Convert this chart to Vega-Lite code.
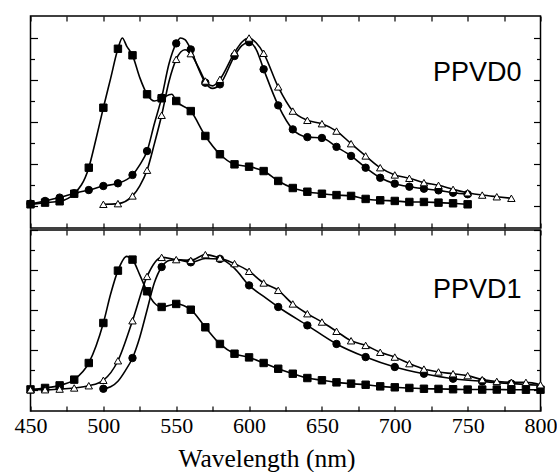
{
  "$schema": "https://vega.github.io/schema/vega-lite/v6.json",
  "background": "white",
  "padding": {"left": 12.5, "top": 14, "right": 0, "bottom": 0},
  "spacing": -6,
  "config": {
    "view": {"stroke": "black", "strokeWidth": 1.5},
    "axis": {"domain": false, "grid": false, "tickColor": "black", "tickWidth": 1.2, "labelColor": "black", "titleColor": "black", "minExtent": 0, "labelFlush": false, "offset": 0}
  },
  "datasets": {
    "curves": [
      {"panel":"PPVD0","series":"s1","nm":450,"I":0.010},{"panel":"PPVD0","series":"s1","nm":460,"I":0.020},{"panel":"PPVD0","series":"s1","nm":470,"I":0.028},{"panel":"PPVD0","series":"s1","nm":480,"I":0.073},{"panel":"PPVD0","series":"s1","nm":490,"I":0.228},{"panel":"PPVD0","series":"s1","nm":495,"I":0.40},{"panel":"PPVD0","series":"s1","nm":500,"I":0.585},{"panel":"PPVD0","series":"s1","nm":505,"I":0.76},{"panel":"PPVD0","series":"s1","nm":510,"I":0.936},{"panel":"PPVD0","series":"s1","nm":513,"I":1.0},{"panel":"PPVD0","series":"s1","nm":516,"I":0.952},{"panel":"PPVD0","series":"s1","nm":520,"I":0.897},{"panel":"PPVD0","series":"s1","nm":525,"I":0.764},{"panel":"PPVD0","series":"s1","nm":530,"I":0.665},{"panel":"PPVD0","series":"s1","nm":535,"I":0.625},{"panel":"PPVD0","series":"s1","nm":540,"I":0.641},{"panel":"PPVD0","series":"s1","nm":547,"I":0.665},{"panel":"PPVD0","series":"s1","nm":550,"I":0.625},{"panel":"PPVD0","series":"s1","nm":560,"I":0.565},{"panel":"PPVD0","series":"s1","nm":570,"I":0.417},{"panel":"PPVD0","series":"s1","nm":580,"I":0.308},{"panel":"PPVD0","series":"s1","nm":590,"I":0.248},{"panel":"PPVD0","series":"s1","nm":600,"I":0.234},{"panel":"PPVD0","series":"s1","nm":610,"I":0.208},{"panel":"PPVD0","series":"s1","nm":620,"I":0.149},{"panel":"PPVD0","series":"s1","nm":630,"I":0.107},{"panel":"PPVD0","series":"s1","nm":640,"I":0.085},{"panel":"PPVD0","series":"s1","nm":650,"I":0.073},{"panel":"PPVD0","series":"s1","nm":660,"I":0.065},{"panel":"PPVD0","series":"s1","nm":670,"I":0.060},{"panel":"PPVD0","series":"s1","nm":680,"I":0.042},{"panel":"PPVD0","series":"s1","nm":690,"I":0.034},{"panel":"PPVD0","series":"s1","nm":700,"I":0.030},{"panel":"PPVD0","series":"s1","nm":710,"I":0.024},{"panel":"PPVD0","series":"s1","nm":720,"I":0.024},{"panel":"PPVD0","series":"s1","nm":730,"I":0.020},{"panel":"PPVD0","series":"s1","nm":740,"I":0.016},{"panel":"PPVD0","series":"s1","nm":750,"I":0.010},
      {"panel":"PPVD0","series":"s2","nm":450,"I":0.014},{"panel":"PPVD0","series":"s2","nm":460,"I":0.030},{"panel":"PPVD0","series":"s2","nm":470,"I":0.050},{"panel":"PPVD0","series":"s2","nm":480,"I":0.076},{"panel":"PPVD0","series":"s2","nm":490,"I":0.095},{"panel":"PPVD0","series":"s2","nm":500,"I":0.119},{"panel":"PPVD0","series":"s2","nm":510,"I":0.135},{"panel":"PPVD0","series":"s2","nm":520,"I":0.185},{"panel":"PPVD0","series":"s2","nm":525,"I":0.245},{"panel":"PPVD0","series":"s2","nm":530,"I":0.327},{"panel":"PPVD0","series":"s2","nm":535,"I":0.49},{"panel":"PPVD0","series":"s2","nm":540,"I":0.645},{"panel":"PPVD0","series":"s2","nm":545,"I":0.845},{"panel":"PPVD0","series":"s2","nm":550,"I":0.968},{"panel":"PPVD0","series":"s2","nm":553,"I":1.0},{"panel":"PPVD0","series":"s2","nm":556,"I":0.99},{"panel":"PPVD0","series":"s2","nm":560,"I":0.932},{"panel":"PPVD0","series":"s2","nm":565,"I":0.823},{"panel":"PPVD0","series":"s2","nm":570,"I":0.734},{"panel":"PPVD0","series":"s2","nm":575,"I":0.70},{"panel":"PPVD0","series":"s2","nm":580,"I":0.724},{"panel":"PPVD0","series":"s2","nm":590,"I":0.893},{"panel":"PPVD0","series":"s2","nm":595,"I":0.955},{"panel":"PPVD0","series":"s2","nm":600,"I":0.975},{"panel":"PPVD0","series":"s2","nm":605,"I":0.93},{"panel":"PPVD0","series":"s2","nm":610,"I":0.814},{"panel":"PPVD0","series":"s2","nm":620,"I":0.599},{"panel":"PPVD0","series":"s2","nm":630,"I":0.456},{"panel":"PPVD0","series":"s2","nm":640,"I":0.410},{"panel":"PPVD0","series":"s2","nm":650,"I":0.405},{"panel":"PPVD0","series":"s2","nm":660,"I":0.352},{"panel":"PPVD0","series":"s2","nm":670,"I":0.298},{"panel":"PPVD0","series":"s2","nm":680,"I":0.228},{"panel":"PPVD0","series":"s2","nm":690,"I":0.168},{"panel":"PPVD0","series":"s2","nm":700,"I":0.133},{"panel":"PPVD0","series":"s2","nm":710,"I":0.115},{"panel":"PPVD0","series":"s2","nm":720,"I":0.103},{"panel":"PPVD0","series":"s2","nm":730,"I":0.093},{"panel":"PPVD0","series":"s2","nm":740,"I":0.079},{"panel":"PPVD0","series":"s2","nm":750,"I":0.070},
      {"panel":"PPVD0","series":"s3","nm":500,"I":0.010},{"panel":"PPVD0","series":"s3","nm":510,"I":0.014},{"panel":"PPVD0","series":"s3","nm":520,"I":0.060},{"panel":"PPVD0","series":"s3","nm":525,"I":0.12},{"panel":"PPVD0","series":"s3","nm":530,"I":0.213},{"panel":"PPVD0","series":"s3","nm":535,"I":0.37},{"panel":"PPVD0","series":"s3","nm":540,"I":0.540},{"panel":"PPVD0","series":"s3","nm":545,"I":0.74},{"panel":"PPVD0","series":"s3","nm":550,"I":0.873},{"panel":"PPVD0","series":"s3","nm":556,"I":0.93},{"panel":"PPVD0","series":"s3","nm":560,"I":0.907},{"panel":"PPVD0","series":"s3","nm":565,"I":0.83},{"panel":"PPVD0","series":"s3","nm":570,"I":0.744},{"panel":"PPVD0","series":"s3","nm":575,"I":0.715},{"panel":"PPVD0","series":"s3","nm":580,"I":0.754},{"panel":"PPVD0","series":"s3","nm":590,"I":0.913},{"panel":"PPVD0","series":"s3","nm":595,"I":0.975},{"panel":"PPVD0","series":"s3","nm":600,"I":1.0},{"panel":"PPVD0","series":"s3","nm":605,"I":0.97},{"panel":"PPVD0","series":"s3","nm":610,"I":0.909},{"panel":"PPVD0","series":"s3","nm":620,"I":0.709},{"panel":"PPVD0","series":"s3","nm":630,"I":0.565},{"panel":"PPVD0","series":"s3","nm":640,"I":0.510},{"panel":"PPVD0","series":"s3","nm":650,"I":0.490},{"panel":"PPVD0","series":"s3","nm":660,"I":0.446},{"panel":"PPVD0","series":"s3","nm":670,"I":0.371},{"panel":"PPVD0","series":"s3","nm":680,"I":0.298},{"panel":"PPVD0","series":"s3","nm":690,"I":0.228},{"panel":"PPVD0","series":"s3","nm":700,"I":0.185},{"panel":"PPVD0","series":"s3","nm":710,"I":0.165},{"panel":"PPVD0","series":"s3","nm":720,"I":0.139},{"panel":"PPVD0","series":"s3","nm":730,"I":0.123},{"panel":"PPVD0","series":"s3","nm":740,"I":0.099},{"panel":"PPVD0","series":"s3","nm":750,"I":0.079},{"panel":"PPVD0","series":"s3","nm":760,"I":0.065},{"panel":"PPVD0","series":"s3","nm":770,"I":0.055},{"panel":"PPVD0","series":"s3","nm":780,"I":0.046},
      {"panel":"PPVD1","series":"s1","nm":450,"I":0.004},{"panel":"PPVD1","series":"s1","nm":460,"I":0.013},{"panel":"PPVD1","series":"s1","nm":470,"I":0.029},{"panel":"PPVD1","series":"s1","nm":480,"I":0.065},{"panel":"PPVD1","series":"s1","nm":490,"I":0.169},{"panel":"PPVD1","series":"s1","nm":500,"I":0.419},{"panel":"PPVD1","series":"s1","nm":505,"I":0.60},{"panel":"PPVD1","series":"s1","nm":510,"I":0.746},{"panel":"PPVD1","series":"s1","nm":516,"I":0.835},{"panel":"PPVD1","series":"s1","nm":520,"I":0.815},{"panel":"PPVD1","series":"s1","nm":525,"I":0.72},{"panel":"PPVD1","series":"s1","nm":530,"I":0.617},{"panel":"PPVD1","series":"s1","nm":535,"I":0.544},{"panel":"PPVD1","series":"s1","nm":540,"I":0.519},{"panel":"PPVD1","series":"s1","nm":550,"I":0.538},{"panel":"PPVD1","series":"s1","nm":560,"I":0.502},{"panel":"PPVD1","series":"s1","nm":570,"I":0.392},{"panel":"PPVD1","series":"s1","nm":580,"I":0.288},{"panel":"PPVD1","series":"s1","nm":590,"I":0.227},{"panel":"PPVD1","series":"s1","nm":600,"I":0.204},{"panel":"PPVD1","series":"s1","nm":610,"I":0.169},{"panel":"PPVD1","series":"s1","nm":620,"I":0.133},{"panel":"PPVD1","series":"s1","nm":630,"I":0.102},{"panel":"PPVD1","series":"s1","nm":640,"I":0.075},{"panel":"PPVD1","series":"s1","nm":650,"I":0.061},{"panel":"PPVD1","series":"s1","nm":660,"I":0.048},{"panel":"PPVD1","series":"s1","nm":670,"I":0.040},{"panel":"PPVD1","series":"s1","nm":680,"I":0.033},{"panel":"PPVD1","series":"s1","nm":690,"I":0.023},{"panel":"PPVD1","series":"s1","nm":700,"I":0.017},{"panel":"PPVD1","series":"s1","nm":710,"I":0.013},{"panel":"PPVD1","series":"s1","nm":720,"I":0.008},{"panel":"PPVD1","series":"s1","nm":730,"I":0.007},{"panel":"PPVD1","series":"s1","nm":740,"I":0.005},{"panel":"PPVD1","series":"s1","nm":750,"I":0.003},{"panel":"PPVD1","series":"s1","nm":760,"I":0.003},{"panel":"PPVD1","series":"s1","nm":770,"I":0.003},{"panel":"PPVD1","series":"s1","nm":780,"I":0.002},{"panel":"PPVD1","series":"s1","nm":790,"I":0.002},{"panel":"PPVD1","series":"s1","nm":800,"I":0.002},
      {"panel":"PPVD1","series":"s2","nm":500,"I":0.008},{"panel":"PPVD1","series":"s2","nm":505,"I":0.02},{"panel":"PPVD1","series":"s2","nm":510,"I":0.055},{"panel":"PPVD1","series":"s2","nm":515,"I":0.12},{"panel":"PPVD1","series":"s2","nm":520,"I":0.200},{"panel":"PPVD1","series":"s2","nm":525,"I":0.33},{"panel":"PPVD1","series":"s2","nm":530,"I":0.50},{"panel":"PPVD1","series":"s2","nm":535,"I":0.67},{"panel":"PPVD1","series":"s2","nm":540,"I":0.769},{"panel":"PPVD1","series":"s2","nm":545,"I":0.81},{"panel":"PPVD1","series":"s2","nm":550,"I":0.815},{"panel":"PPVD1","series":"s2","nm":560,"I":0.798},{"panel":"PPVD1","series":"s2","nm":570,"I":0.822},{"panel":"PPVD1","series":"s2","nm":580,"I":0.819},{"panel":"PPVD1","series":"s2","nm":590,"I":0.76},{"panel":"PPVD1","series":"s2","nm":600,"I":0.654},{"panel":"PPVD1","series":"s2","nm":610,"I":0.585},{"panel":"PPVD1","series":"s2","nm":620,"I":0.519},{"panel":"PPVD1","series":"s2","nm":640,"I":0.404},{"panel":"PPVD1","series":"s2","nm":660,"I":0.288},{"panel":"PPVD1","series":"s2","nm":680,"I":0.206},{"panel":"PPVD1","series":"s2","nm":700,"I":0.144},{"panel":"PPVD1","series":"s2","nm":720,"I":0.102},{"panel":"PPVD1","series":"s2","nm":740,"I":0.071},{"panel":"PPVD1","series":"s2","nm":760,"I":0.054},{"panel":"PPVD1","series":"s2","nm":780,"I":0.040},{"panel":"PPVD1","series":"s2","nm":800,"I":0.030},
      {"panel":"PPVD1","series":"s3","nm":450,"I":0.002},{"panel":"PPVD1","series":"s3","nm":460,"I":0.002},{"panel":"PPVD1","series":"s3","nm":470,"I":0.006},{"panel":"PPVD1","series":"s3","nm":480,"I":0.013},{"panel":"PPVD1","series":"s3","nm":490,"I":0.027},{"panel":"PPVD1","series":"s3","nm":500,"I":0.061},{"panel":"PPVD1","series":"s3","nm":510,"I":0.183},{"panel":"PPVD1","series":"s3","nm":520,"I":0.433},{"panel":"PPVD1","series":"s3","nm":530,"I":0.710},{"panel":"PPVD1","series":"s3","nm":540,"I":0.829},{"panel":"PPVD1","series":"s3","nm":550,"I":0.815},{"panel":"PPVD1","series":"s3","nm":560,"I":0.810},{"panel":"PPVD1","series":"s3","nm":570,"I":0.846},{"panel":"PPVD1","series":"s3","nm":580,"I":0.825},{"panel":"PPVD1","series":"s3","nm":590,"I":0.790},{"panel":"PPVD1","series":"s3","nm":600,"I":0.742},{"panel":"PPVD1","series":"s3","nm":610,"I":0.669},{"panel":"PPVD1","series":"s3","nm":620,"I":0.623},{"panel":"PPVD1","series":"s3","nm":630,"I":0.538},{"panel":"PPVD1","series":"s3","nm":640,"I":0.477},{"panel":"PPVD1","series":"s3","nm":650,"I":0.425},{"panel":"PPVD1","series":"s3","nm":660,"I":0.367},{"panel":"PPVD1","series":"s3","nm":670,"I":0.308},{"panel":"PPVD1","series":"s3","nm":680,"I":0.279},{"panel":"PPVD1","series":"s3","nm":690,"I":0.236},{"panel":"PPVD1","series":"s3","nm":700,"I":0.206},{"panel":"PPVD1","series":"s3","nm":710,"I":0.165},{"panel":"PPVD1","series":"s3","nm":720,"I":0.131},{"panel":"PPVD1","series":"s3","nm":730,"I":0.113},{"panel":"PPVD1","series":"s3","nm":740,"I":0.102},{"panel":"PPVD1","series":"s3","nm":750,"I":0.090},{"panel":"PPVD1","series":"s3","nm":760,"I":0.065},{"panel":"PPVD1","series":"s3","nm":770,"I":0.054},{"panel":"PPVD1","series":"s3","nm":780,"I":0.048},{"panel":"PPVD1","series":"s3","nm":790,"I":0.048},{"panel":"PPVD1","series":"s3","nm":800,"I":0.033}
    ],
    "symbols": [
      {"panel":"PPVD0","series":"s1","nm":450,"I":0.010},{"panel":"PPVD0","series":"s1","nm":460,"I":0.020},{"panel":"PPVD0","series":"s1","nm":470,"I":0.028},{"panel":"PPVD0","series":"s1","nm":480,"I":0.073},{"panel":"PPVD0","series":"s1","nm":490,"I":0.228},{"panel":"PPVD0","series":"s1","nm":500,"I":0.585},{"panel":"PPVD0","series":"s1","nm":510,"I":0.936},{"panel":"PPVD0","series":"s1","nm":520,"I":0.897},{"panel":"PPVD0","series":"s1","nm":530,"I":0.665},{"panel":"PPVD0","series":"s1","nm":540,"I":0.641},{"panel":"PPVD0","series":"s1","nm":550,"I":0.625},{"panel":"PPVD0","series":"s1","nm":560,"I":0.565},{"panel":"PPVD0","series":"s1","nm":570,"I":0.417},{"panel":"PPVD0","series":"s1","nm":580,"I":0.308},{"panel":"PPVD0","series":"s1","nm":590,"I":0.248},{"panel":"PPVD0","series":"s1","nm":600,"I":0.234},{"panel":"PPVD0","series":"s1","nm":610,"I":0.208},{"panel":"PPVD0","series":"s1","nm":620,"I":0.149},{"panel":"PPVD0","series":"s1","nm":630,"I":0.107},{"panel":"PPVD0","series":"s1","nm":640,"I":0.085},{"panel":"PPVD0","series":"s1","nm":650,"I":0.073},{"panel":"PPVD0","series":"s1","nm":660,"I":0.065},{"panel":"PPVD0","series":"s1","nm":670,"I":0.060},{"panel":"PPVD0","series":"s1","nm":680,"I":0.042},{"panel":"PPVD0","series":"s1","nm":690,"I":0.034},{"panel":"PPVD0","series":"s1","nm":700,"I":0.030},{"panel":"PPVD0","series":"s1","nm":710,"I":0.024},{"panel":"PPVD0","series":"s1","nm":720,"I":0.024},{"panel":"PPVD0","series":"s1","nm":730,"I":0.020},{"panel":"PPVD0","series":"s1","nm":740,"I":0.016},{"panel":"PPVD0","series":"s1","nm":750,"I":0.010},
      {"panel":"PPVD0","series":"s2","nm":450,"I":0.014},{"panel":"PPVD0","series":"s2","nm":460,"I":0.030},{"panel":"PPVD0","series":"s2","nm":470,"I":0.050},{"panel":"PPVD0","series":"s2","nm":480,"I":0.076},{"panel":"PPVD0","series":"s2","nm":490,"I":0.095},{"panel":"PPVD0","series":"s2","nm":500,"I":0.119},{"panel":"PPVD0","series":"s2","nm":510,"I":0.135},{"panel":"PPVD0","series":"s2","nm":520,"I":0.185},{"panel":"PPVD0","series":"s2","nm":530,"I":0.327},{"panel":"PPVD0","series":"s2","nm":540,"I":0.645},{"panel":"PPVD0","series":"s2","nm":550,"I":0.968},{"panel":"PPVD0","series":"s2","nm":560,"I":0.932},{"panel":"PPVD0","series":"s2","nm":570,"I":0.734},{"panel":"PPVD0","series":"s2","nm":580,"I":0.724},{"panel":"PPVD0","series":"s2","nm":590,"I":0.893},{"panel":"PPVD0","series":"s2","nm":600,"I":0.975},{"panel":"PPVD0","series":"s2","nm":610,"I":0.814},{"panel":"PPVD0","series":"s2","nm":620,"I":0.599},{"panel":"PPVD0","series":"s2","nm":630,"I":0.456},{"panel":"PPVD0","series":"s2","nm":640,"I":0.410},{"panel":"PPVD0","series":"s2","nm":650,"I":0.405},{"panel":"PPVD0","series":"s2","nm":660,"I":0.352},{"panel":"PPVD0","series":"s2","nm":670,"I":0.298},{"panel":"PPVD0","series":"s2","nm":680,"I":0.228},{"panel":"PPVD0","series":"s2","nm":690,"I":0.168},{"panel":"PPVD0","series":"s2","nm":700,"I":0.133},{"panel":"PPVD0","series":"s2","nm":710,"I":0.115},{"panel":"PPVD0","series":"s2","nm":720,"I":0.103},{"panel":"PPVD0","series":"s2","nm":730,"I":0.093},{"panel":"PPVD0","series":"s2","nm":740,"I":0.079},{"panel":"PPVD0","series":"s2","nm":750,"I":0.070},
      {"panel":"PPVD0","series":"s3","nm":500,"I":0.010},{"panel":"PPVD0","series":"s3","nm":510,"I":0.014},{"panel":"PPVD0","series":"s3","nm":520,"I":0.060},{"panel":"PPVD0","series":"s3","nm":530,"I":0.213},{"panel":"PPVD0","series":"s3","nm":540,"I":0.540},{"panel":"PPVD0","series":"s3","nm":550,"I":0.873},{"panel":"PPVD0","series":"s3","nm":560,"I":0.907},{"panel":"PPVD0","series":"s3","nm":570,"I":0.744},{"panel":"PPVD0","series":"s3","nm":580,"I":0.754},{"panel":"PPVD0","series":"s3","nm":590,"I":0.913},{"panel":"PPVD0","series":"s3","nm":600,"I":1.0},{"panel":"PPVD0","series":"s3","nm":610,"I":0.909},{"panel":"PPVD0","series":"s3","nm":620,"I":0.709},{"panel":"PPVD0","series":"s3","nm":630,"I":0.565},{"panel":"PPVD0","series":"s3","nm":640,"I":0.510},{"panel":"PPVD0","series":"s3","nm":650,"I":0.490},{"panel":"PPVD0","series":"s3","nm":660,"I":0.446},{"panel":"PPVD0","series":"s3","nm":670,"I":0.371},{"panel":"PPVD0","series":"s3","nm":680,"I":0.298},{"panel":"PPVD0","series":"s3","nm":690,"I":0.228},{"panel":"PPVD0","series":"s3","nm":700,"I":0.185},{"panel":"PPVD0","series":"s3","nm":710,"I":0.165},{"panel":"PPVD0","series":"s3","nm":720,"I":0.139},{"panel":"PPVD0","series":"s3","nm":730,"I":0.123},{"panel":"PPVD0","series":"s3","nm":740,"I":0.099},{"panel":"PPVD0","series":"s3","nm":750,"I":0.079},{"panel":"PPVD0","series":"s3","nm":760,"I":0.065},{"panel":"PPVD0","series":"s3","nm":770,"I":0.055},{"panel":"PPVD0","series":"s3","nm":780,"I":0.046},
      {"panel":"PPVD1","series":"s1","nm":450,"I":0.004},{"panel":"PPVD1","series":"s1","nm":460,"I":0.013},{"panel":"PPVD1","series":"s1","nm":470,"I":0.029},{"panel":"PPVD1","series":"s1","nm":480,"I":0.065},{"panel":"PPVD1","series":"s1","nm":490,"I":0.169},{"panel":"PPVD1","series":"s1","nm":500,"I":0.419},{"panel":"PPVD1","series":"s1","nm":510,"I":0.746},{"panel":"PPVD1","series":"s1","nm":520,"I":0.815},{"panel":"PPVD1","series":"s1","nm":530,"I":0.617},{"panel":"PPVD1","series":"s1","nm":540,"I":0.519},{"panel":"PPVD1","series":"s1","nm":550,"I":0.538},{"panel":"PPVD1","series":"s1","nm":560,"I":0.502},{"panel":"PPVD1","series":"s1","nm":570,"I":0.392},{"panel":"PPVD1","series":"s1","nm":580,"I":0.288},{"panel":"PPVD1","series":"s1","nm":590,"I":0.227},{"panel":"PPVD1","series":"s1","nm":600,"I":0.204},{"panel":"PPVD1","series":"s1","nm":610,"I":0.169},{"panel":"PPVD1","series":"s1","nm":620,"I":0.133},{"panel":"PPVD1","series":"s1","nm":630,"I":0.102},{"panel":"PPVD1","series":"s1","nm":640,"I":0.075},{"panel":"PPVD1","series":"s1","nm":650,"I":0.061},{"panel":"PPVD1","series":"s1","nm":660,"I":0.048},{"panel":"PPVD1","series":"s1","nm":670,"I":0.040},{"panel":"PPVD1","series":"s1","nm":680,"I":0.033},{"panel":"PPVD1","series":"s1","nm":690,"I":0.023},{"panel":"PPVD1","series":"s1","nm":700,"I":0.017},{"panel":"PPVD1","series":"s1","nm":710,"I":0.013},{"panel":"PPVD1","series":"s1","nm":720,"I":0.008},{"panel":"PPVD1","series":"s1","nm":730,"I":0.007},{"panel":"PPVD1","series":"s1","nm":740,"I":0.005},{"panel":"PPVD1","series":"s1","nm":750,"I":0.003},{"panel":"PPVD1","series":"s1","nm":760,"I":0.003},{"panel":"PPVD1","series":"s1","nm":770,"I":0.003},{"panel":"PPVD1","series":"s1","nm":780,"I":0.002},{"panel":"PPVD1","series":"s1","nm":790,"I":0.002},{"panel":"PPVD1","series":"s1","nm":800,"I":0.002},
      {"panel":"PPVD1","series":"s2","nm":500,"I":0.008},{"panel":"PPVD1","series":"s2","nm":520,"I":0.200},{"panel":"PPVD1","series":"s2","nm":540,"I":0.769},{"panel":"PPVD1","series":"s2","nm":560,"I":0.798},{"panel":"PPVD1","series":"s2","nm":580,"I":0.819},{"panel":"PPVD1","series":"s2","nm":600,"I":0.654},{"panel":"PPVD1","series":"s2","nm":620,"I":0.519},{"panel":"PPVD1","series":"s2","nm":640,"I":0.404},{"panel":"PPVD1","series":"s2","nm":660,"I":0.288},{"panel":"PPVD1","series":"s2","nm":680,"I":0.206},{"panel":"PPVD1","series":"s2","nm":700,"I":0.144},{"panel":"PPVD1","series":"s2","nm":720,"I":0.102},{"panel":"PPVD1","series":"s2","nm":740,"I":0.071},{"panel":"PPVD1","series":"s2","nm":760,"I":0.054},{"panel":"PPVD1","series":"s2","nm":780,"I":0.040},
      {"panel":"PPVD1","series":"s3","nm":450,"I":0.002},{"panel":"PPVD1","series":"s3","nm":460,"I":0.002},{"panel":"PPVD1","series":"s3","nm":470,"I":0.006},{"panel":"PPVD1","series":"s3","nm":480,"I":0.013},{"panel":"PPVD1","series":"s3","nm":490,"I":0.027},{"panel":"PPVD1","series":"s3","nm":500,"I":0.061},{"panel":"PPVD1","series":"s3","nm":510,"I":0.183},{"panel":"PPVD1","series":"s3","nm":520,"I":0.433},{"panel":"PPVD1","series":"s3","nm":530,"I":0.710},{"panel":"PPVD1","series":"s3","nm":540,"I":0.829},{"panel":"PPVD1","series":"s3","nm":550,"I":0.815},{"panel":"PPVD1","series":"s3","nm":560,"I":0.810},{"panel":"PPVD1","series":"s3","nm":570,"I":0.846},{"panel":"PPVD1","series":"s3","nm":580,"I":0.825},{"panel":"PPVD1","series":"s3","nm":590,"I":0.790},{"panel":"PPVD1","series":"s3","nm":600,"I":0.742},{"panel":"PPVD1","series":"s3","nm":610,"I":0.669},{"panel":"PPVD1","series":"s3","nm":620,"I":0.623},{"panel":"PPVD1","series":"s3","nm":630,"I":0.538},{"panel":"PPVD1","series":"s3","nm":640,"I":0.477},{"panel":"PPVD1","series":"s3","nm":650,"I":0.425},{"panel":"PPVD1","series":"s3","nm":660,"I":0.367},{"panel":"PPVD1","series":"s3","nm":670,"I":0.308},{"panel":"PPVD1","series":"s3","nm":680,"I":0.279},{"panel":"PPVD1","series":"s3","nm":690,"I":0.236},{"panel":"PPVD1","series":"s3","nm":700,"I":0.206},{"panel":"PPVD1","series":"s3","nm":710,"I":0.165},{"panel":"PPVD1","series":"s3","nm":720,"I":0.131},{"panel":"PPVD1","series":"s3","nm":730,"I":0.113},{"panel":"PPVD1","series":"s3","nm":740,"I":0.102},{"panel":"PPVD1","series":"s3","nm":750,"I":0.090},{"panel":"PPVD1","series":"s3","nm":760,"I":0.065},{"panel":"PPVD1","series":"s3","nm":770,"I":0.054},{"panel":"PPVD1","series":"s3","nm":780,"I":0.048},{"panel":"PPVD1","series":"s3","nm":790,"I":0.048},{"panel":"PPVD1","series":"s3","nm":800,"I":0.033}
    ]
  },
  "vconcat": [
    {
      "width": 510,
      "height": 212,
      "resolve": {"axis": {"x": "independent", "y": "independent"}},
      "layer": [
        {
          "data": {"name": "curves"},
          "transform": [{"filter": "datum.panel === 'PPVD0'"}],
          "mark": {"type": "line", "interpolate": "monotone", "color": "black", "strokeWidth": 1.6},
          "encoding": {
            "x": {"field": "nm", "type": "quantitative", "scale": {"domain": [450, 800], "nice": false, "zero": false},
                  "axis": {"orient": "bottom", "values": [450,475,500,525,550,575,600,625,650,675,700,725,750,775,800], "tickSize": -5, "labels": false, "title": null}},
            "y": {"field": "I", "type": "quantitative", "scale": {"domain": [-0.131, 1.131], "nice": false, "zero": false},
                  "axis": {"orient": "left", "values": [0,0.125,0.25,0.375,0.5,0.625,0.75,0.875,1], "tickSize": {"condition": {"test": "datum.value % 0.25 === 0", "value": -7}, "value": -4}, "labels": false, "title": null}},
            "detail": {"field": "series"}
          }
        },
        {
          "data": {"name": "symbols"},
          "transform": [{"filter": "datum.panel === 'PPVD0'"}],
          "mark": {"type": "point", "filled": true, "stroke": "black", "strokeWidth": 1, "opacity": 1},
          "encoding": {
            "x": {"field": "nm", "type": "quantitative",
                  "axis": {"orient": "top", "values": [450,475,500,525,550,575,600,625,650,675,700,725,750,775,800], "tickSize": -5, "labels": false, "title": null}},
            "y": {"field": "I", "type": "quantitative",
                  "axis": {"orient": "right", "values": [0,0.125,0.25,0.375,0.5,0.625,0.75,0.875,1], "tickSize": {"condition": {"test": "datum.value % 0.25 === 0", "value": -7}, "value": -4}, "labels": false, "title": null}},
            "shape": {"field": "series", "scale": {"domain": ["s1","s2","s3"], "range": ["square","circle","triangle-up"]}, "legend": null},
            "fill": {"field": "series", "scale": {"domain": ["s1","s2","s3"], "range": ["black","black","white"]}, "legend": null},
            "size": {"field": "series", "scale": {"domain": ["s1","s2","s3"], "range": [55, 55, 85]}, "legend": null}
          }
        },
        {
          "data": {"values": [{"label": "PPVD0"}]},
          "mark": {"type": "text", "align": "right", "baseline": "alphabetic", "font": "Liberation Sans", "fontSize": 27, "color": "black"},
          "encoding": {
            "x": {"datum": 787, "type": "quantitative", "axis": null},
            "y": {"datum": 0.744, "type": "quantitative", "axis": null},
            "text": {"field": "label"}
          }
        }
      ]
    },
    {
      "width": 510,
      "height": 181,
      "resolve": {"axis": {"x": "independent", "y": "independent"}},
      "layer": [
        {
          "data": {"name": "curves"},
          "transform": [{"filter": "datum.panel === 'PPVD1'"}],
          "mark": {"type": "line", "interpolate": "monotone", "color": "black", "strokeWidth": 1.6},
          "encoding": {
            "x": {"field": "nm", "type": "quantitative", "scale": {"domain": [450, 800], "nice": false, "zero": false},
                  "axis": {"orient": "bottom", "values": [450,475,500,525,550,575,600,625,650,675,700,725,750,775,800], "tickSize": -5,
                           "labelExpr": "datum.value % 50 === 0 ? datum.label : ''", "labelFont": "Times New Roman, Liberation Serif, serif", "labelFontSize": 22, "labelPadding": 9.5, "labelFlush": false,
                           "title": "Wavelength (nm)", "titleFont": "Times New Roman, Liberation Serif, serif", "titleFontSize": 25.5, "titleFontWeight": "normal", "titlePadding": 10, "titleX": 236}},
            "y": {"field": "I", "type": "quantitative", "scale": {"domain": [-0.131, 1.0], "nice": false, "zero": false},
                  "axis": {"orient": "left", "values": [0,0.125,0.25,0.375,0.5,0.625,0.75,0.875,1], "tickSize": {"condition": {"test": "datum.value % 0.25 === 0", "value": -7}, "value": -4}, "labels": false, "title": null}},
            "detail": {"field": "series"}
          }
        },
        {
          "data": {"name": "symbols"},
          "transform": [{"filter": "datum.panel === 'PPVD1'"}],
          "mark": {"type": "point", "filled": true, "stroke": "black", "strokeWidth": 1, "opacity": 1},
          "encoding": {
            "x": {"field": "nm", "type": "quantitative",
                  "axis": {"orient": "top", "values": [450,475,500,525,550,575,600,625,650,675,700,725,750,775,800], "tickSize": -5, "labels": false, "title": null}},
            "y": {"field": "I", "type": "quantitative",
                  "axis": {"orient": "right", "values": [0,0.125,0.25,0.375,0.5,0.625,0.75,0.875,1], "tickSize": {"condition": {"test": "datum.value % 0.25 === 0", "value": -7}, "value": -4}, "labels": false, "title": null}},
            "shape": {"field": "series", "scale": {"domain": ["s1","s2","s3"], "range": ["square","circle","triangle-up"]}, "legend": null},
            "fill": {"field": "series", "scale": {"domain": ["s1","s2","s3"], "range": ["black","black","white"]}, "legend": null},
            "size": {"field": "series", "scale": {"domain": ["s1","s2","s3"], "range": [55, 55, 85]}, "legend": null}
          }
        },
        {
          "data": {"values": [{"label": "PPVD1"}]},
          "mark": {"type": "text", "align": "right", "baseline": "alphabetic", "font": "Liberation Sans", "fontSize": 27, "color": "black"},
          "encoding": {
            "x": {"datum": 787, "type": "quantitative", "axis": null},
            "y": {"datum": 0.575, "type": "quantitative", "axis": null},
            "text": {"field": "label"}
          }
        }
      ]
    }
  ]
}
